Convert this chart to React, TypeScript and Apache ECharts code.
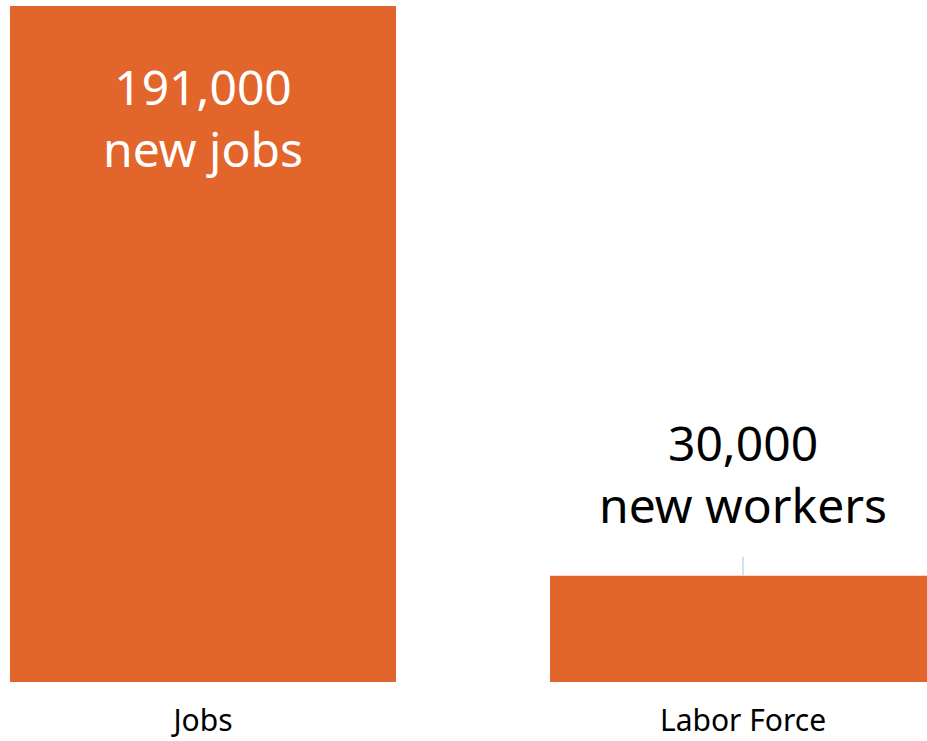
import React, { useEffect, useRef } from "react";
import * as echarts from "echarts";

const categories = ["Jobs", "Labor Force"];
const values = [191000, 30000];
const valueLabels = ["191,000", "30,000"];
const unitLabels = ["new jobs", "new workers"];
const positions = [0, 1];

const FONT = "'Noto Sans', sans-serif";
const ORANGE = "#E2662C";

export default function App() {
  const ref = useRef<HTMLDivElement>(null);
  useEffect(() => {
    if (!ref.current) return;
    const chart = echarts.init(ref.current, undefined, { renderer: "svg" });
    chart.setOption({
      animation: false,
      grid: { left: 0, right: 0, top: 6, bottom: 59, containLabel: false },
      xAxis: {
        type: "value",
        min: -0.3759,
        max: 1.3407,
        axisLine: { show: false },
        axisTick: { show: false },
        splitLine: { show: false },
        axisLabel: {
          customValues: positions,
          formatter: (v: number) => categories[Math.round(v)] ?? "",
          color: "#000",
          fontFamily: FONT,
          fontSize: 30,
          lineHeight: 30,
          margin: 22,
        },
      },
      yAxis: { type: "value", min: 0, max: 191000, show: false, splitLine: { show: false } },
      series: [
        {
          type: "bar",
          barWidth: 386,
          itemStyle: { color: ORANGE },
          data: values.map((v, i) => ({
            value: [positions[i], v],
            label: {
              show: true,
              position: i === 0 ? "insideTop" : "top",
              distance: i === 0 ? 49 : 40,
              formatter: valueLabels[i] + "\n" + unitLabels[i],
              color: i === 0 ? "#fff" : "#000",
              fontFamily: FONT,
              fontSize: 48,
              lineHeight: 62,
            },
          })),
          markLine: {
            silent: true,
            symbol: "none",
            label: { show: false },
            lineStyle: { color: "#cde6ee", width: 2, type: "solid" },
            data: [[{ coord: [positions[1], values[1]] }, { coord: [positions[1], 35400] }]],
          },
        },
      ],
    });
    return () => chart.dispose();
  }, []);
  return <div ref={ref} style={{ width: 927, height: 741, position: "absolute", left: 0, top: 0 }} />;
}
